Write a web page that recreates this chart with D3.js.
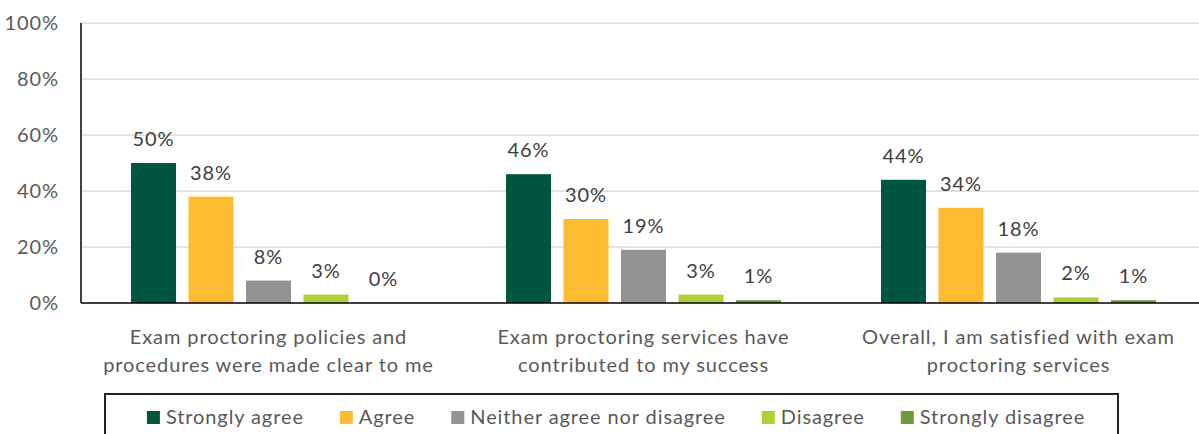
<!DOCTYPE html>
<html>
<head>
<meta charset="utf-8">
<script src="https://cdn.jsdelivr.net/npm/d3@7"></script>
<style>
  html, body { margin: 0; padding: 0; background: #fff; }
  svg { display: block; }
  text { font-family: Lato, "Noto Sans", sans-serif; letter-spacing: 0.9px; }
</style>
</head>
<body>
<svg id="chart" width="1199" height="434"></svg>
<script>
// Survey statements (each split into two display lines)
const categories = [
  ["Exam proctoring policies and", "procedures were made clear to me"],
  ["Exam proctoring services have", "contributed to my success"],
  ["Overall, I am satisfied with exam", "proctoring services"]
];
const seriesNames = ["Strongly agree", "Agree", "Neither agree nor disagree", "Disagree", "Strongly disagree"];
const seriesColors = ["#00563E", "#FDBB30", "#939393", "#ADD035", "#6E9B3C"];
// Percent of respondents, one array per response option (in category order)
const stronglyAgree    = [50, 46, 44];
const agree            = [38, 30, 34];
const neither          = [8, 19, 18];
const disagree         = [3, 3, 2];
const stronglyDisagree = [0, 1, 1];
const yTicks = [0, 20, 40, 60, 80, 100];

const seriesValues = [stronglyAgree, agree, neither, disagree, stronglyDisagree];

const svg = d3.select("#chart");
const plotLeft = 81, plotRight = 1206, plotTop = 23, plotBottom = 303;

const x0 = d3.scaleBand().domain(d3.range(categories.length)).range([plotLeft, plotRight]).padding(0);
const innerSpan = 287.5;
const x1 = d3.scaleBand().domain(seriesNames)
  .range([(x0.bandwidth() - innerSpan) / 2, (x0.bandwidth() + innerSpan) / 2])
  .paddingInner(0.2174).paddingOuter(0.1087);
const y = d3.scaleLinear().domain([0, 100]).range([plotBottom, plotTop]);

// Gridlines
svg.append("g")
  .selectAll("line")
  .data(yTicks.filter(t => t > 0))
  .join("line")
  .attr("x1", plotLeft).attr("x2", 1199)
  .attr("y1", d => y(d)).attr("y2", d => y(d))
  .attr("stroke", "#d9d9d9").attr("stroke-width", 1.5);

// Y axis labels
const yAxis = d3.axisLeft(y).tickValues(yTicks).tickFormat(d => d + "%").tickSize(0).tickPadding(22);
const yg = svg.append("g").attr("transform", `translate(${plotLeft},0)`).call(yAxis);
yg.select(".domain").remove();
yg.selectAll("text").attr("font-size", 20).attr("fill", "#595959").attr("font-family", "Lato, sans-serif");

// Bars
const groups = svg.append("g")
  .selectAll("g")
  .data(categories.map((c, i) => i))
  .join("g")
  .attr("transform", i => `translate(${x0(i)},0)`);

groups.selectAll("rect")
  .data(i => seriesNames.map((s, k) => ({ s, k, v: seriesValues[k][i] })))
  .join("rect")
  .attr("x", d => x1(d.s))
  .attr("width", x1.bandwidth())
  .attr("y", d => y(d.v))
  .attr("height", d => y(0) - y(d.v))
  .attr("fill", d => seriesColors[d.k]);

// Value labels
groups.selectAll("text.val")
  .data(i => seriesNames.map((s, k) => ({ s, k, v: seriesValues[k][i] })))
  .join("text")
  .attr("class", "val")
  .attr("x", d => x1(d.s) + x1.bandwidth() / 2)
  .attr("y", d => y(d.v) - 17)
  .attr("text-anchor", "middle")
  .attr("font-size", 20)
  .attr("fill", "#404040")
  .text(d => d.v + "%");

// Axis lines
svg.append("line").attr("x1", plotLeft).attr("x2", 1199).attr("y1", y(0)).attr("y2", y(0))
  .attr("stroke", "#000").attr("stroke-width", 1.5);
svg.append("line").attr("x1", plotLeft).attr("x2", plotLeft).attr("y1", y(100)).attr("y2", y(0))
  .attr("stroke", "#000").attr("stroke-width", 1.5);

// Category labels
const catG = svg.append("g")
  .selectAll("text")
  .data(categories)
  .join("text")
  .attr("text-anchor", "middle")
  .attr("font-size", 20)
  .attr("fill", "#595959");
catG.each(function(lines, i) {
  const t = d3.select(this);
  lines.forEach((ln, j) => {
    t.append("tspan")
      .attr("x", x0(i) + x0.bandwidth() / 2)
      .attr("y", 344 + j * 28)
      .text(ln);
  });
});

// Legend
svg.append("rect")
  .attr("x", 105).attr("y", 394).attr("width", 1013).attr("height", 60)
  .attr("fill", "#fff").attr("stroke", "#222").attr("stroke-width", 2);

const legend = svg.append("g");
const items = legend.selectAll("g").data(seriesNames).join("g");
items.append("rect").attr("width", 13).attr("height", 13).attr("y", 411)
  .attr("fill", (d, k) => seriesColors[k]);
items.append("text").attr("x", 19).attr("y", 424)
  .attr("font-size", 20).attr("fill", "#595959").text(d => d);

let widths = [];
items.each(function() { widths.push(19 + d3.select(this).select("text").node().getComputedTextLength()); });
const gap = 36;
const total = d3.sum(widths) + gap * (widths.length - 1);
let cx = 616 - total / 2;
items.each(function(d, k) {
  d3.select(this).attr("transform", `translate(${cx},0)`);
  cx += widths[k] + gap;
});
</script>
</body>
</html>
